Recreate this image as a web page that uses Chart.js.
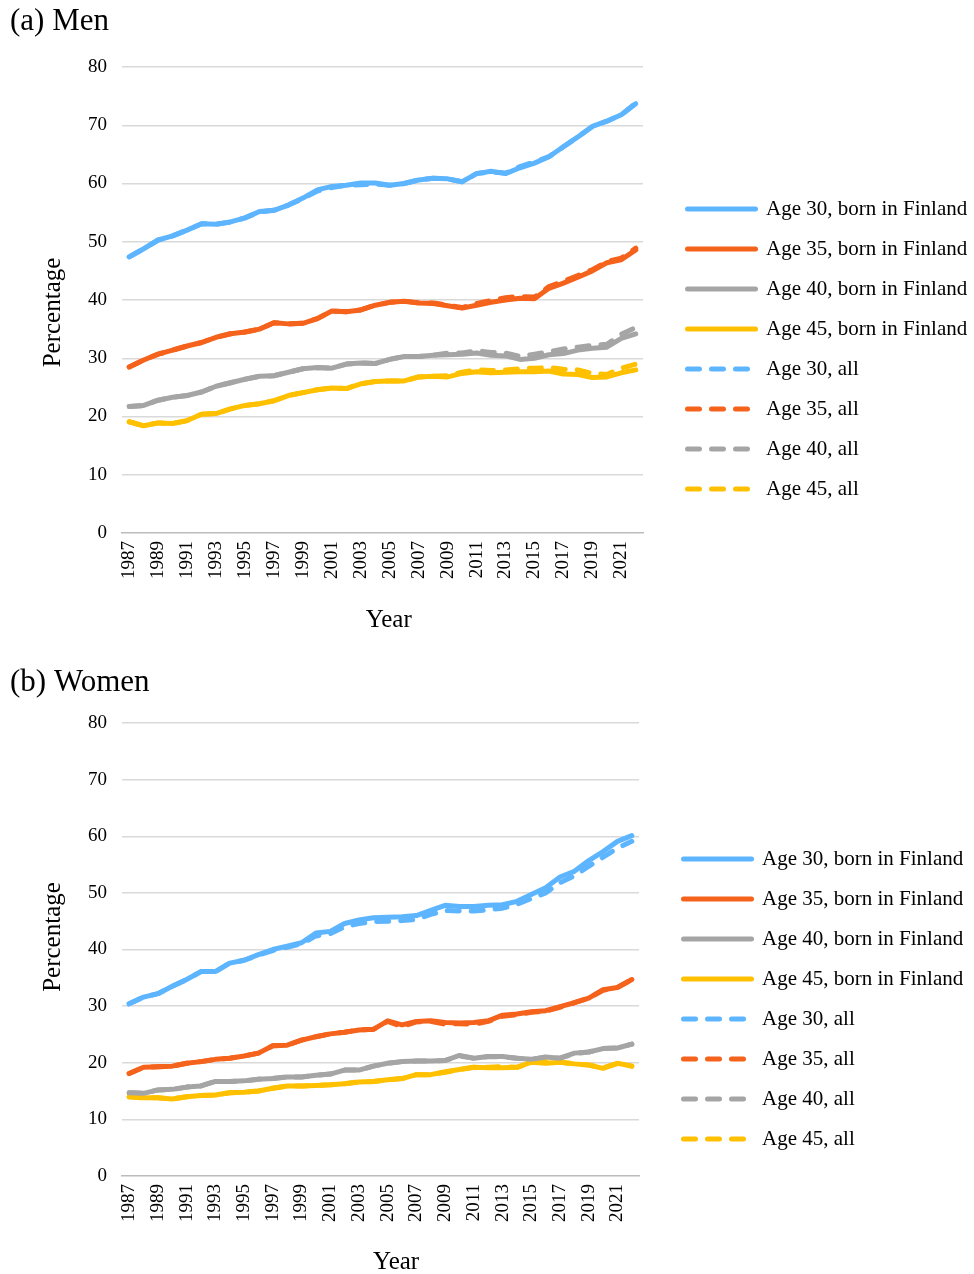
<!DOCTYPE html>
<html>
<head>
<meta charset="utf-8">
<script src="https://cdn.jsdelivr.net/npm/chart.js@4.4.1/dist/chart.umd.min.js"></script>
<style>
  html, body { margin: 0; padding: 0; background: #fff; width: 974px; height: 1274px; overflow: hidden; }
  .wrap { position: absolute; left: 0; width: 974px; height: 640px; }
  #w1 { top: 0; }
  #w2 { top: 650px; }
</style>
</head>
<body>
<div class="wrap" id="w1"><canvas id="c1" width="974" height="640"></canvas></div>
<div class="wrap" id="w2"><canvas id="c2" width="974" height="640"></canvas></div>
<script>
const years = [1987,1988,1989,1990,1991,1992,1993,1994,1995,1996,1997,1998,1999,2000,2001,2002,2003,2004,2005,2006,2007,2008,2009,2010,2011,2012,2013,2014,2015,2016,2017,2018,2019,2020,2021,2022];
const tickYears = [1987,1989,1991,1993,1995,1997,1999,2001,2003,2005,2007,2009,2011,2013,2015,2017,2019,2021];
const yTicks = [0,10,20,30,40,50,60,70,80];
const seriesNames = ['Age 30, born in Finland','Age 35, born in Finland','Age 40, born in Finland','Age 45, born in Finland','Age 30, all','Age 35, all','Age 40, all','Age 45, all'];
const seriesColors = ['#5eb5ff','#f5621b','#a5a5a5','#ffc000'];

// (a) Men
const men30fin = [47.4,48.8,50.3,51.0,52.0,53.1,53.0,53.4,54.1,55.2,55.4,56.3,57.5,58.9,59.5,59.7,60.1,60.1,59.7,60.0,60.6,60.9,60.8,60.3,61.7,62.1,61.7,62.7,63.5,64.6,66.3,68.0,69.8,70.7,71.8,73.7];
const men35fin = [28.5,29.7,30.7,31.4,32.1,32.7,33.6,34.2,34.5,35.0,36.1,35.9,36.0,36.8,38.1,38.0,38.3,39.1,39.6,39.8,39.5,39.4,39.0,38.6,39.1,39.6,40.0,40.3,40.2,42.0,42.9,43.9,45.0,46.4,46.9,48.6];
const men40fin = [21.7,21.9,22.8,23.3,23.6,24.2,25.2,25.8,26.4,26.9,27.0,27.6,28.2,28.4,28.3,29.0,29.2,29.1,29.8,30.3,30.3,30.5,30.6,30.7,30.9,30.5,30.4,29.8,30.0,30.6,30.8,31.4,31.7,31.9,33.4,34.2];
const men45fin = [19.1,18.4,18.9,18.8,19.3,20.4,20.5,21.3,21.9,22.2,22.7,23.6,24.1,24.6,24.9,24.8,25.6,26.0,26.1,26.1,26.8,26.9,26.8,27.4,27.7,27.5,27.6,27.7,27.7,27.8,27.3,27.2,26.7,26.8,27.5,28.0];
const men30all = [47.4,48.8,50.3,51.0,52.0,53.1,53.0,53.4,54.1,55.1,55.4,56.3,57.4,58.7,59.3,59.7,59.8,59.9,59.7,60.0,60.6,60.9,60.8,60.3,61.7,62.0,61.8,62.9,63.7,64.6,66.3,68.0,69.8,70.7,71.8,73.8];
const men35all = [28.5,29.7,30.7,31.4,32.1,32.7,33.6,34.2,34.5,35.0,36.1,35.9,36.0,36.8,38.1,38.0,38.3,39.1,39.6,39.8,39.5,39.5,39.1,38.7,39.4,39.9,40.4,40.6,40.5,42.3,43.2,44.2,45.2,46.6,47.2,48.9];
const men40all = [21.7,21.9,22.8,23.3,23.6,24.2,25.2,25.8,26.4,26.9,27.0,27.6,28.2,28.4,28.3,29.0,29.2,29.1,29.8,30.3,30.3,30.5,30.9,30.9,31.3,31.0,30.9,30.3,30.7,31.1,31.6,31.9,32.2,32.4,34.1,35.3];
const men45all = [19.1,18.4,18.9,18.8,19.3,20.4,20.5,21.3,21.9,22.2,22.7,23.6,24.1,24.6,24.9,24.8,25.6,26.0,26.1,26.1,26.8,26.9,27.0,27.6,28.0,27.9,28.0,28.2,28.3,28.4,28.1,28.0,27.4,27.2,28.3,29.0];

// (b) Women
const women30fin = [30.4,31.6,32.2,33.5,34.7,36.1,36.1,37.6,38.1,39.1,40.0,40.6,41.2,42.9,43.2,44.6,45.2,45.6,45.7,45.8,46.0,46.9,47.8,47.6,47.6,47.8,47.9,48.5,49.7,50.9,52.8,53.8,55.7,57.3,59.1,60.1];
const women35fin = [18.1,19.2,19.3,19.4,19.9,20.2,20.6,20.8,21.2,21.7,23.0,23.1,24.0,24.6,25.1,25.4,25.8,25.9,27.4,26.7,27.3,27.4,27.1,27.0,27.1,27.4,28.4,28.6,29.0,29.2,29.9,30.6,31.4,32.9,33.3,34.7];
const women40fin = [14.7,14.6,15.2,15.3,15.7,15.9,16.7,16.7,16.8,17.1,17.2,17.5,17.5,17.8,18.0,18.7,18.7,19.4,19.9,20.2,20.3,20.3,20.4,21.3,20.8,21.1,21.1,20.8,20.6,21.0,20.8,21.7,21.9,22.5,22.6,23.3];
const women45fin = [14.0,13.8,13.8,13.6,14.0,14.2,14.3,14.7,14.8,15.0,15.5,15.9,15.9,16.0,16.1,16.3,16.6,16.7,17.0,17.2,17.9,17.9,18.4,18.8,19.2,19.1,19.1,19.2,20.1,19.9,20.1,19.8,19.6,19.0,19.9,19.4];
const women30all = [30.4,31.6,32.2,33.5,34.7,36.1,36.1,37.6,38.1,39.0,39.8,40.4,41.0,42.4,42.8,44.0,44.6,44.9,45.0,45.1,45.3,46.2,46.9,46.8,46.8,47.0,47.3,48.0,49.0,50.0,51.8,53.0,54.7,56.3,57.9,59.1];
const women35all = [18.1,19.2,19.3,19.4,19.9,20.2,20.6,20.8,21.2,21.7,23.0,23.1,24.0,24.6,25.1,25.4,25.8,25.9,27.3,26.4,27.2,27.3,26.8,26.9,26.8,27.3,28.2,28.5,28.9,29.1,29.8,30.6,31.4,32.8,33.3,34.7];
const women40all = [14.7,14.6,15.2,15.3,15.7,15.9,16.7,16.7,16.8,17.1,17.2,17.5,17.5,17.8,18.0,18.7,18.7,19.4,19.9,20.2,20.3,20.3,20.4,21.2,20.8,21.1,21.0,20.8,20.6,21.0,20.8,21.6,21.9,22.5,22.6,23.3];
const women45all = [14.0,13.8,13.8,13.6,14.0,14.2,14.3,14.7,14.8,15.0,15.5,15.9,15.9,16.0,16.1,16.3,16.6,16.7,17.0,17.2,17.9,17.9,18.3,18.8,19.2,19.2,19.3,19.2,20.0,20.2,20.1,19.8,19.6,19.1,19.9,19.4];

const SERIF = '"Liberation Serif", "Times New Roman", serif';
const LINE_W = 5;

function makeDatasets(solid, dashed) {
  const ds = [];
  solid.forEach((arr, i) => ds.push({
    label: seriesNames[i], data: arr, borderColor: seriesColors[i], backgroundColor: seriesColors[i],
    borderWidth: LINE_W, pointRadius: 0, tension: 0, borderCapStyle: 'round', borderJoinStyle: 'round',
    borderDash: [], order: 1
  }));
  dashed.forEach((arr, i) => ds.push({
    label: seriesNames[i + 4], data: arr, borderColor: seriesColors[i], backgroundColor: seriesColors[i],
    borderWidth: LINE_W, pointRadius: 0, tension: 0, borderCapStyle: 'round', borderJoinStyle: 'round',
    borderDash: [12, 12], order: 0
  }));
  return ds;
}

function legendLabels(chart) {
  const items = Chart.defaults.plugins.legend.labels.generateLabels(chart);
  return items.map(it => {
    const ds = chart.data.datasets[it.datasetIndex];
    it.lineDash = ds.borderDash || [];
    it.lineCap = 'round';
    it.lineWidth = LINE_W;
    it.strokeStyle = ds.borderColor;
    it.fillStyle = ds.borderColor;
    it.pointStyle = 'line';
    return it;
  });
}

function makeChart(canvasId, titleText, solid, dashed, p) {
  return new Chart(document.getElementById(canvasId), {
    type: 'line',
    data: { labels: years.map(String), datasets: makeDatasets(solid, dashed) },
    options: {
      responsive: false,
      animation: false,
      devicePixelRatio: 1,
      layout: { padding: { left: 10, right: p.padRight, top: 0, bottom: 0 } },
      plugins: {
        tooltip: { enabled: false },
        title: {
          display: true, text: titleText, align: 'start', color: '#000',
          font: { family: SERIF, size: 31, weight: 'normal', lineHeight: 1.2 },
          padding: { top: p.titleTop, bottom: p.titleBottom }
        },
        legend: {
          display: true, position: 'right', align: 'start', maxWidth: p.legendWidth,
          title: { display: true, text: '', font: { size: 10, lineHeight: 1 }, padding: { top: 169.5, bottom: 0 } },
          labels: {
            usePointStyle: true, pointStyle: 'line', pointStyleWidth: 68,
            color: '#000', padding: 19,
            font: { family: SERIF, size: 21 },
            generateLabels: legendLabels,
            sort: (a, b) => a.datasetIndex - b.datasetIndex
          }
        }
      },
      scales: {
        x: {
          type: 'category', offset: true,
          grid: { display: false, drawTicks: false },
          border: { display: true, color: '#bcbcbc', width: 1.5 },
          ticks: {
            autoSkip: false, minRotation: 90, maxRotation: 90, padding: 8, color: '#000',
            font: { family: SERIF, size: 19 },
            callback: function (v, i) { return tickYears.includes(years[i]) ? String(years[i]) : ''; }
          },
          title: { display: true, text: p.xTitle, color: '#000', font: { family: SERIF, size: 25, lineHeight: 1.2 }, padding: { top: 0, bottom: p.yearPad } },
          afterFit: s => { s.height = p.xHeight; }
        },
        y: {
          min: 0, max: 80,
          afterBuildTicks: s => { s.ticks = yTicks.map(v => ({ value: v })); },
          grid: { color: ctx => ctx.tick && ctx.tick.value === 0 ? 'rgba(0,0,0,0)' : '#d9d9d9', lineWidth: 1.5, drawTicks: false },
          border: { display: false },
          ticks: { padding: 15, color: '#000', font: { family: SERIF, size: 19 } },
          title: { display: true, text: p.yTitle, color: '#000', font: { family: SERIF, size: 25, lineHeight: 1.2 }, padding: { top: 28, bottom: 0 } },
          afterFit: s => { s.width = 112; }
        },
        yR: {
          type: 'linear', position: 'right', display: true, min: 0, max: 80,
          grid: { display: false, drawTicks: false }, border: { display: false },
          ticks: { display: false }, title: { display: false },
          afterFit: s => { s.width = 25.5; }
        }
      }
    }
  });
}

makeChart('c1', '(a) Men',
  [men30fin, men35fin, men40fin, men45fin], [men30all, men35all, men40all, men45all],
  { padRight: 0, legendWidth: 305.5, titleTop: 3.4, titleBottom: 26.4, xHeight: 107, yearPad: 5,
    xTitle: '  Year', yTitle: 'Percentage    ' });

makeChart('c2', '(b) Women',
  [women30fin, women35fin, women40fin, women45fin], [women30all, women35all, women40all, women45all],
  { padRight: 1, legendWidth: 308.5, titleTop: 14.4, titleBottom: 21.4, xHeight: 114, yearPad: 13,
    xTitle: '     Year', yTitle: '    Percentage' });
</script>
</body>
</html>
